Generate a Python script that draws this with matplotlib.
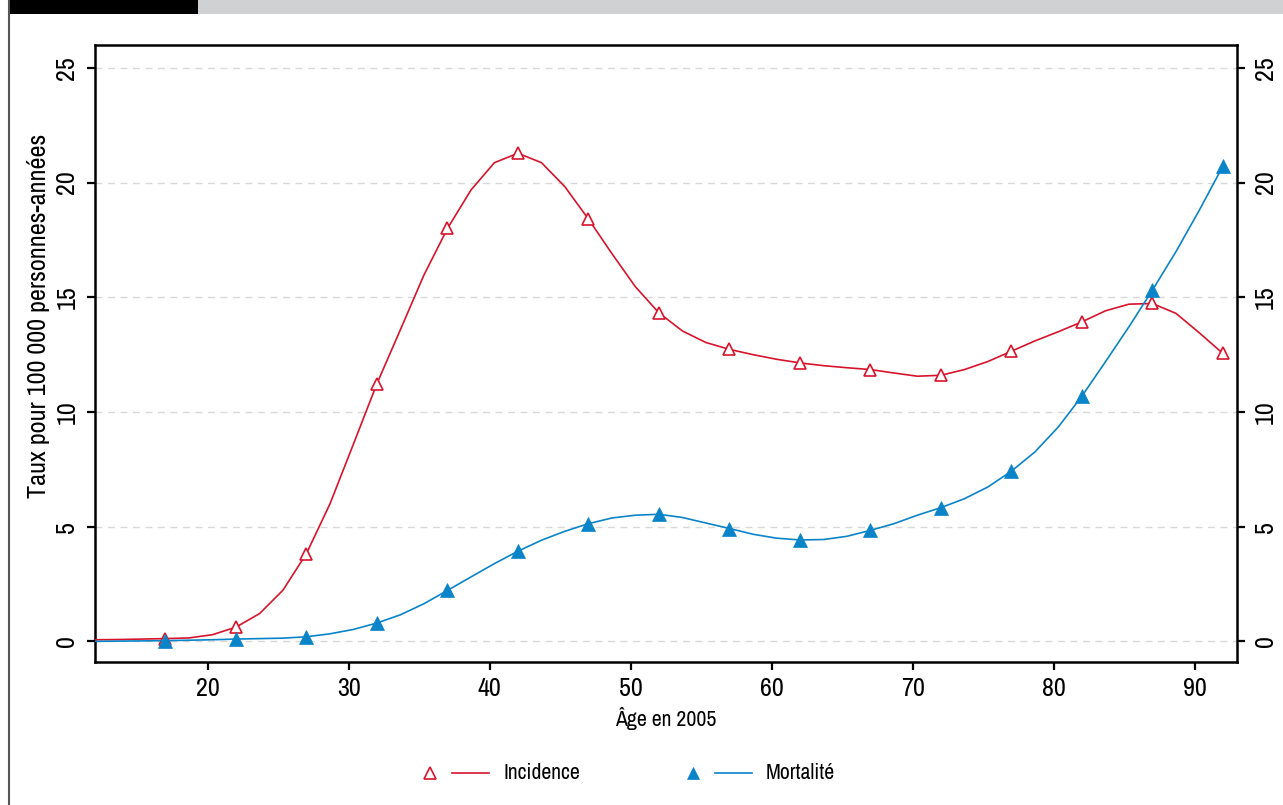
import matplotlib
matplotlib.use("Agg")
import matplotlib.pyplot as plt
from matplotlib import font_manager
from matplotlib.font_manager import FontProperties
from matplotlib.textpath import TextPath
from matplotlib.lines import Line2D
from matplotlib.patches import Rectangle

# ---------------- data ----------------
ages = [12.0, 13.67, 15.33, 17.0, 18.67, 20.33, 22.0, 23.67, 25.33, 27.0,
        28.67, 30.33, 32.0, 33.67, 35.33, 37.0, 38.67, 40.33, 42.0, 43.67,
        45.33, 47.0, 48.67, 50.33, 52.0, 53.67, 55.33, 57.0, 58.67, 60.33,
        62.0, 63.67, 65.33, 67.0, 68.67, 70.33, 72.0, 73.67, 75.33, 77.0,
        78.67, 80.33, 82.0, 83.67, 85.33, 87.0, 88.67, 90.33, 92.0]

incidence = [0.07, 0.08, 0.10, 0.12, 0.15, 0.29, 0.62, 1.21, 2.23, 3.83,
             6.00, 8.60, 11.24, 13.60, 15.97, 18.00, 19.68, 20.87, 21.28, 20.87,
             19.82, 18.41, 16.90, 15.46, 14.32, 13.53, 13.03, 12.73, 12.50, 12.30,
             12.14, 12.02, 11.93, 11.85, 11.70, 11.56, 11.60, 11.85, 12.20, 12.65,
             13.10, 13.50, 13.93, 14.41, 14.70, 14.73, 14.30, 13.45, 12.55]

mortalite = [0.00, 0.01, 0.02, 0.03, 0.05, 0.07, 0.10, 0.12, 0.14, 0.20,
             0.33, 0.52, 0.80, 1.16, 1.64, 2.22, 2.81, 3.39, 3.93, 4.41,
             4.80, 5.13, 5.38, 5.50, 5.54, 5.40, 5.16, 4.92, 4.67, 4.50,
             4.42, 4.44, 4.58, 4.84, 5.13, 5.50, 5.83, 6.22, 6.73, 7.42,
             8.26, 9.35, 10.69, 12.19, 13.71, 15.31, 16.99, 18.80, 20.72]

marker_idx = list(range(3, len(ages), 3))   # markers at 17, 22, ..., 92

xticks = [20, 30, 40, 50, 60, 70, 80, 90]
yticks = [0, 5, 10, 15, 20, 25]

labels = ["Incidence", "Mortalité"]
xlabel = "Âge en 2005"
ylabel = "Taux pour 100 000 personnes-années"

RED = "#d7142c"
BLUE = "#0a84c8"

# ---------------- font: prefer a condensed sans ----------------
entries = font_manager.fontManager.ttflist
FAMILY, STRETCH = None, "normal"
for e in entries:
    if e.name == "Liberation Sans Narrow":
        FAMILY, STRETCH = e.name, e.stretch
        break
if FAMILY is None:
    for e in entries:
        if ("Condensed" in e.name or "Narrow" in e.name) and e.weight in (400, "normal", "regular"):
            FAMILY, STRETCH = e.name, e.stretch
            break
if FAMILY is None:
    for pref in ["Noto Sans", "Open Sans", "Roboto", "DejaVu Sans", "Liberation Sans"]:
        for e in entries:
            if e.name == pref and e.stretch in ("condensed", "semi-condensed", "extra-condensed") \
                    and e.style == "normal" and e.weight in (400, "normal", "regular"):
                FAMILY, STRETCH = e.name, e.stretch
                break
        if FAMILY:
            break
if FAMILY is None:
    FAMILY = "Open Sans"

plt.rcParams["font.family"] = [FAMILY, "DejaVu Sans"]
plt.rcParams["font.stretch"] = STRETCH

# size so that "Incidence" is ~75 px wide (54 pt), as in the reference
fp = FontProperties(family=[FAMILY, "DejaVu Sans"], stretch=STRETCH)
w10 = TextPath((0, 0), "Incidence", size=10, prop=fp).get_extents().width
FS = min(16.0, 10 * 54.0 / w10)
FS_BIG = FS * 1.2
plt.rcParams["font.size"] = FS

# ---------------- figure ----------------
W, H = 1283, 805
fig = plt.figure(figsize=(W / 100, H / 100), dpi=100)
ax = fig.add_axes([95 / W, 1 - 662 / H, (1237 - 95) / W, (662 - 45) / H])

ax.plot(ages, incidence, color=RED, lw=1.2, marker="^", markevery=marker_idx,
        ms=8.5, mfc="white", mec=RED, mew=1.2, zorder=3)
ax.plot(ages, mortalite, color=BLUE, lw=1.2, marker="^", markevery=marker_idx,
        ms=9.5, mfc=BLUE, mec=BLUE, mew=0.5, zorder=4)

ax.set_xlim(12, 93)
ax.set_ylim(-0.9, 26)
ax.set_xticks(xticks)
ax.set_yticks(yticks)
ax.tick_params(axis="both", direction="out", length=6, width=1.6, color="black",
               labelsize=FS_BIG, pad=5)
ax.tick_params(axis="y", right=True, labelright=True, pad=6)
for t in ax.yaxis.get_major_ticks():
    for lab in (t.label1, t.label2):
        lab.set_rotation(90)
        lab.set_va("center")

for sp in ax.spines.values():
    sp.set_linewidth(1.8)

ax.grid(axis="y", color="#d9d9d9", lw=1.0, linestyle=(0, (5, 4)))
ax.set_axisbelow(True)

ax.set_xlabel(xlabel, fontsize=FS, labelpad=5)
ax.set_ylabel(ylabel, fontsize=FS_BIG)
ax.yaxis.set_label_coords(-0.039, 0.561)

# ---------------- header decorations ----------------
fig.add_artist(Rectangle((8 / W, 1 - 14 / H), (198 - 8) / W, 14 / H,
                         transform=fig.transFigure, color="black", lw=0))
fig.add_artist(Rectangle((198 / W, 1 - 14 / H), (W - 198) / W, 14 / H,
                         transform=fig.transFigure, color="#d0d1d3", lw=0))
fig.add_artist(Line2D([8.5 / W, 8.5 / W], [0, 1], transform=fig.transFigure,
                      color="#555555", lw=1.5))

# ---------------- legend (manual) ----------------
ly = 1 - 773 / H
items = [(labels[0], RED, "white", 430), (labels[1], BLUE, BLUE, 693)]
for text, col, fc, x0 in items:
    fig.add_artist(Line2D([x0 / W], [ly], transform=fig.transFigure, marker="^",
                          ms=8.5, mfc=fc, mec=col, mew=1.2 if fc == "white" else 0.5,
                          ls="none"))
    fig.add_artist(Line2D([(x0 + 22) / W, (x0 + 59) / W], [ly, ly],
                          transform=fig.transFigure, color=col, lw=1.2))
    fig.text((x0 + 73) / W, ly, text, va="center", ha="left", fontsize=FS)

fig.savefig("out.png", dpi=100)
